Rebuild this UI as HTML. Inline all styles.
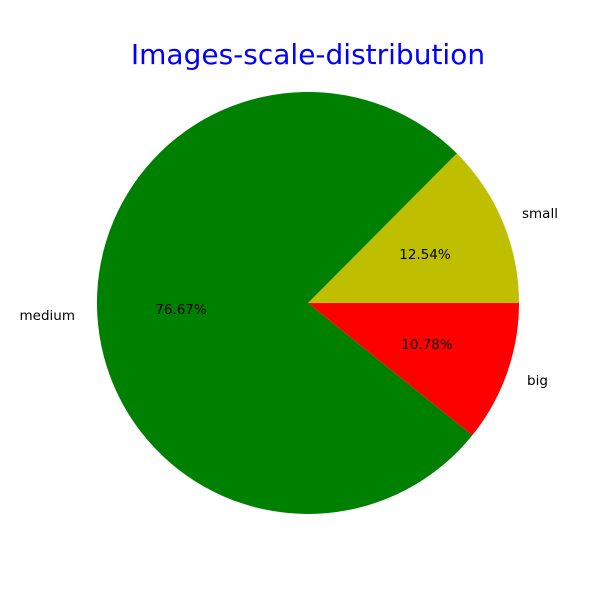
<!DOCTYPE html>
<html><head><meta charset="utf-8"><style>
html,body{margin:0;padding:0;background:#fff;}
svg{display:block;}
text{font-family:"DejaVu Sans","Liberation Sans",sans-serif;}
</style></head><body>
<svg width="600" height="600" viewBox="0 0 600 600" xmlns="http://www.w3.org/2000/svg">
<rect width="600" height="600" fill="#fff"/>
<path d="M308,303 L519,303 A211,211 0 0,0 456.8,153.4 Z" fill="#bfbf00"/>
<path d="M308,303 L456.8,153.4 A211,211 0 1,0 472.3,435.3 Z" fill="#008000"/>
<path d="M308,303 L472.3,435.3 A211,211 0 0,0 519,303 Z" fill="#ff0000"/>
<text x="308" y="64" font-size="28" fill="#0000ff" text-anchor="middle">Images-scale-distribution</text>
<g font-size="13.5" fill="#000">
<text x="522" y="218">small</text>
<text x="527" y="385">big</text>
<text x="75" y="320" text-anchor="end">medium</text>
<text x="425" y="259" text-anchor="middle">12.54%</text>
<text x="427" y="349" text-anchor="middle">10.78%</text>
<text x="181" y="314" text-anchor="middle">76.67%</text>
</g>
</svg>
</body></html>
